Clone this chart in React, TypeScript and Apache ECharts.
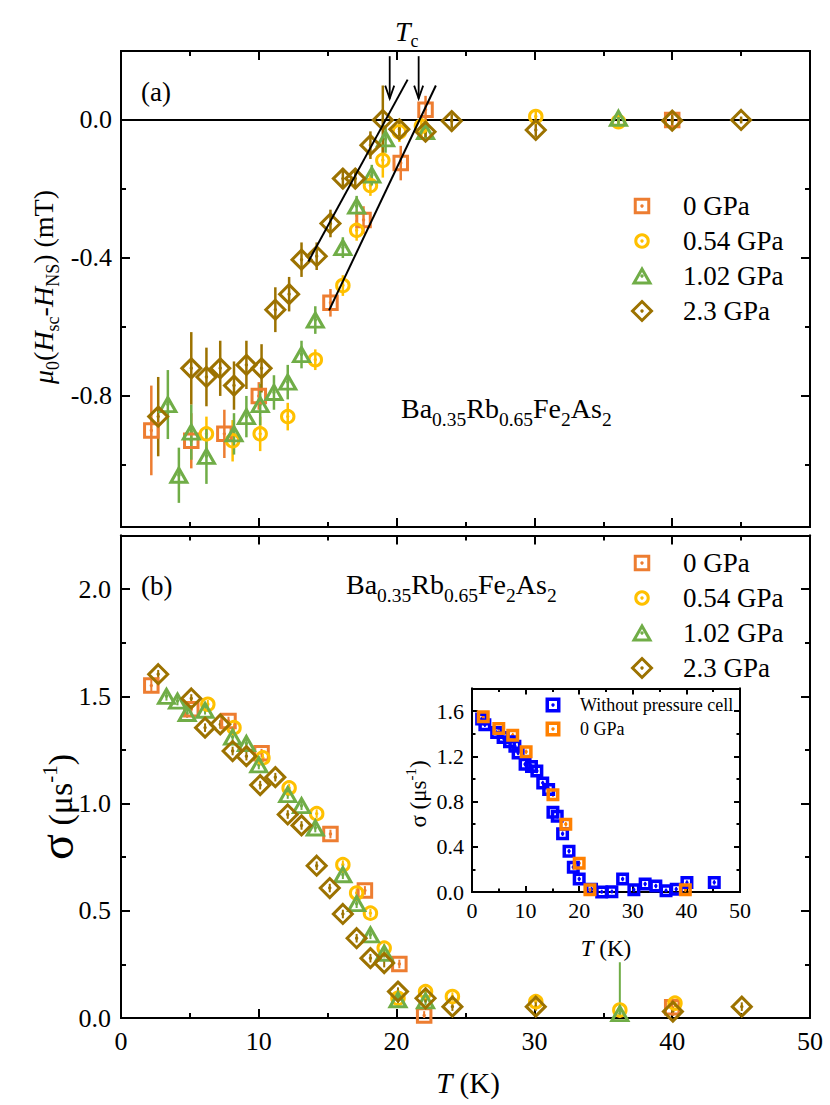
import React, { useEffect, useRef } from "react";
import * as echarts from "echarts";

const SERIF = "'Liberation Serif', 'Times New Roman', serif";

// ---------- colours ----------
const C0 = "#ED7D31"; // 0 GPa
const C054 = "#FFC000"; // 0.54 GPa
const C102 = "#70AD47"; // 1.02 GPa
const C23 = "#9C7200"; // 2.3 GPa
const CBLUE = "#0000FF";
const CORANGE = "#FF8000";

// ---------- legend / categories ----------
const pressures = ["0 GPa", "0.54 GPa", "1.02 GPa", "2.3 GPa"];
const insetNames = ["Without pressure cell", "0 GPa"];

// ---------- panel (a): [T (K), mu0(Hsc-HNS) (mT), error] ----------
const aP0 = [[2.2, -0.9, 0.13], [5.1, -0.93, 0.08], [7.5, -0.91, 0.07], [10.0, -0.8, 0.04], [15.2, -0.53, 0.04], [17.6, -0.29, 0.04], [20.3, -0.125, 0.05], [22.1, 0.03, 0.04], [40.0, 0.0, 0.01]];
const aP054 = [[6.2, -0.91, 0.05], [8.1, -0.93, 0.06], [10.1, -0.91, 0.05], [12.1, -0.86, 0.04], [14.1, -0.695, 0.03], [16.1, -0.48, 0.03], [17.1, -0.32, 0.03], [18.1, -0.19, 0.03], [19.0, -0.117, 0.05], [20.2, -0.034, 0.03], [21.8, -0.018, 0.03], [30.1, 0.01, 0.02], [36.1, -0.005, 0.02]];
const aP102 = [[3.4, -0.825, 0.1], [4.2, -1.03, 0.08], [5.1, -0.905, 0.08], [6.2, -0.975, 0.08], [8.2, -0.91, 0.06], [9.1, -0.86, 0.06], [10.1, -0.825, 0.06], [11.1, -0.79, 0.05], [12.1, -0.76, 0.05], [13.1, -0.68, 0.04], [14.1, -0.58, 0.04], [16.1, -0.37, 0.03], [17.1, -0.25, 0.03], [18.2, -0.16, 0.03], [19.2, -0.055, 0.04], [22.1, -0.034, 0.02], [36.1, 0.005, 0.02]];
const aP23 = [[2.7, -0.86, 0.115], [5.1, -0.72, 0.105], [6.2, -0.745, 0.085], [7.2, -0.72, 0.08], [8.2, -0.77, 0.07], [9.1, -0.71, 0.07], [10.2, -0.72, 0.07], [11.2, -0.55, 0.065], [12.2, -0.505, 0.05], [13.1, -0.405, 0.05], [14.2, -0.395, 0.04], [15.2, -0.3, 0.04], [16.1, -0.17, 0.03], [17.0, -0.17, 0.03], [18.1, -0.073, 0.04], [19.0, 0.0, 0.1], [20.2, -0.027, 0.03], [22.1, -0.034, 0.02], [24.0, -0.003, 0.02], [30.1, -0.029, 0.02], [40.0, -0.002, 0.02], [45.0, 0.0, 0.01]];
const zeroLine = [[0, 0], [50, 0]];
const fitLow = [[13.6, -0.41], [20.8, 0.117]];
const fitHigh = [[15.1, -0.552], [22.85, 0.1]];
const tcArrows = [19.5, 21.6];

// ---------- panel (b): [T (K), sigma (us^-1), error] ----------
const bP0 = [[2.2, 1.55, 0.03], [5.1, 1.44, 0.02], [7.8, 1.385, 0.02], [10.2, 1.235, 0.02], [15.2, 0.858, 0.02], [17.7, 0.595, 0.02], [20.2, 0.252, 0.02], [22.0, 0.012, 0.02], [40.0, 0.05, 0.02]];
const bP054 = [[6.3, 1.463, 0.02], [8.2, 1.354, 0.02], [10.3, 1.213, 0.02], [12.2, 1.073, 0.02], [14.2, 0.953, 0.02], [16.1, 0.715, 0.02], [17.1, 0.583, 0.02], [18.1, 0.489, 0.02], [19.1, 0.326, 0.02], [20.1, 0.092, 0.02], [22.1, 0.123, 0.02], [24.05, 0.1, 0.02], [30.1, 0.076, 0.02], [36.2, 0.037, 0.02], [40.2, 0.069, 0.02]];
const bP102 = [[3.3, 1.5, 0.02], [4.1, 1.478, 0.02], [4.8, 1.42, 0.02], [6.1, 1.435, 0.02], [8.1, 1.31, 0.02], [9.1, 1.28, 0.02], [10.0, 1.18, 0.02], [12.1, 1.042, 0.02], [13.1, 0.99, 0.02], [14.1, 0.886, 0.02], [16.1, 0.668, 0.02], [17.1, 0.533, 0.02], [18.1, 0.388, 0.02], [19.1, 0.302, 0.02], [20.1, 0.085, 0.02], [22.1, 0.08, 0.02], [36.2, 0.02, 0.24]];
const bP23 = [[2.7, 1.603, 0.02], [5.1, 1.49, 0.02], [6.1, 1.354, 0.02], [7.2, 1.369, 0.02], [8.1, 1.245, 0.02], [9.1, 1.221, 0.02], [10.1, 1.086, 0.02], [11.2, 1.123, 0.02], [12.1, 0.949, 0.02], [13.1, 0.898, 0.02], [14.2, 0.71, 0.02], [15.15, 0.606, 0.02], [16.1, 0.485, 0.02], [17.1, 0.372, 0.02], [18.1, 0.279, 0.02], [19.1, 0.256, 0.02], [20.1, 0.123, 0.02], [22.1, 0.092, 0.02], [24.05, 0.053, 0.02], [30.1, 0.053, 0.02], [40.05, 0.03, 0.02], [45.05, 0.053, 0.02]];

// ---------- inset: [T (K), sigma (us^-1), error] ----------
const insNoCell = [[1.8, 1.53, 0.02], [2.4, 1.48, 0.02], [4.6, 1.41, 0.02], [5.8, 1.366, 0.02], [7.0, 1.33, 0.02], [8.0, 1.29, 0.02], [8.6, 1.23, 0.02], [9.9, 1.13, 0.02], [11.1, 1.11, 0.02], [12.1, 1.07, 0.02], [13.2, 0.965, 0.02], [14.3, 0.906, 0.02], [15.1, 0.705, 0.02], [15.9, 0.67, 0.02], [16.9, 0.516, 0.02], [18.1, 0.36, 0.02], [18.9, 0.22, 0.02], [20.0, 0.115, 0.02], [22.3, 0.024, 0.02], [24.2, 0.0, 0.02], [26.1, 0.003, 0.02], [28.1, 0.115, 0.02], [30.2, 0.02, 0.02], [32.3, 0.07, 0.02], [34.3, 0.053, 0.02], [36.2, 0.012, 0.02], [38.1, 0.024, 0.02], [40.1, 0.083, 0.02], [45.2, 0.085, 0.02]];
const ins0GPa = [[2.1, 1.55, 0.02], [5.0, 1.446, 0.02], [7.6, 1.387, 0.02], [10.1, 1.24, 0.02], [15.1, 0.86, 0.02], [17.5, 0.6, 0.02], [20.0, 0.255, 0.02], [22.0, 0.02, 0.02], [39.8, 0.02, 0.02]];

// ---------- tick values ----------
const xLim = [0, 50];
const aYLim = [-1.18, 0.2];
const aYMajor = [-0.8, -0.4, 0.0];
const aYMinor = [-1.0, -0.6, -0.2];
const bYLim = [0, 2.25];
const bYMajor = [0, 0.5, 1.0, 1.5, 2.0];
const bYMinor = [0.25, 0.75, 1.25, 1.75];
const iYLim = [0, 1.8];
const iYMajor = [0, 0.4, 0.8, 1.2, 1.6];
const iYMinor = [0.2, 0.6, 1.0, 1.4];

const AX = "#000";

function xPair(grid: number, show: boolean, fs: number, margin: number, maj: number, min: number) {
  const common: any = {
    type: "value", gridIndex: grid, min: xLim[0], max: xLim[1], interval: 10,
    splitLine: { show: false },
    axisLine: { show: true, onZero: false, lineStyle: { color: AX, width: 2 } },
    axisTick: { show: true, inside: true, length: maj, lineStyle: { color: AX, width: 2 } },
    minorTick: { show: true, splitNumber: 2, length: min, lineStyle: { color: AX, width: 2 } },
  };
  return [
    { ...common, position: "bottom", axisLabel: show ? { show: true, color: "#000", fontFamily: SERIF, fontSize: fs, margin } : { show: false } },
    { ...common, position: "top", axisLabel: { show: false } },
  ];
}

function yQuad(grid: number, lim: number[], major: number[], minor: number[], fs: number, margin: number, maj: number, mn: number) {
  const mk = (pos: string, vals: number[], len: number, lab: boolean) => ({
    type: "value", gridIndex: grid, min: lim[0], max: lim[1], position: pos,
    splitLine: { show: false },
    axisLine: { show: true, onZero: false, lineStyle: { color: AX, width: 2 } },
    axisTick: { show: true, inside: true, length: len, customValues: vals, lineStyle: { color: AX, width: 2 } },
    axisLabel: lab
      ? { show: true, customValues: major, formatter: (v: number) => v.toFixed(1), color: "#000", fontFamily: SERIF, fontSize: fs, margin }
      : { show: false },
  });
  return [mk("left", major, maj, true), mk("left", minor, mn, false), mk("right", major, maj, false), mk("right", minor, mn, false)];
}

function errSeries(data: number[][], color: string, xi: number, yi: number, lw: number, floor: number) {
  return {
    type: "custom", xAxisIndex: xi, yAxisIndex: yi, silent: true, data, encode: { x: 0, y: 1 },
    renderItem: (_p: any, api: any) => {
      const x = api.value(0), y = api.value(1), e = api.value(2);
      const a = api.coord([x, Math.max(y - e, floor)]);
      const b = api.coord([x, y + e]);
      const c = api.coord([x, y]);
      return {
        type: "group",
        children: [
          { type: "line", shape: { x1: a[0], y1: a[1], x2: b[0], y2: b[1] }, style: { stroke: color, lineWidth: lw } },
          { type: "circle", shape: { cx: c[0], cy: c[1], r: 1.7 }, style: { fill: color } },
        ],
      };
    },
  };
}

function scatter(name: string, data: number[][], symbol: string, size: any, color: string, xi: number, yi: number, bw: number) {
  return {
    name, type: "scatter", xAxisIndex: xi, yAxisIndex: yi, silent: true,
    data: data.map((d) => [d[0], d[1]]),
    symbol, symbolSize: size,
    itemStyle: { color: "transparent", borderColor: color, borderWidth: bw, opacity: 1 },
    emphasis: { disabled: true },
  };
}

const SYM: any = {
  rect: { sym: "rect", size: 13.5 },
  circle: { sym: "circle", size: 12.5 },
  triangle: { sym: "triangle", size: [16, 14] },
  diamond: { sym: "diamond", size: 19 },
};

function icon(kind: string, cx: number, cy: number, color: string, s = 1, lw = 3) {
  let shape: any;
  if (kind === "rect") shape = { type: "rect", shape: { x: cx - 6.75 * s, y: cy - 6.75 * s, width: 13.5 * s, height: 13.5 * s } };
  else if (kind === "circle") shape = { type: "circle", shape: { cx, cy, r: 6.25 } };
  else if (kind === "triangle") shape = { type: "polygon", shape: { points: [[cx, cy - 7], [cx + 8, cy + 7], [cx - 8, cy + 7]] } };
  else shape = { type: "polygon", shape: { points: [[cx, cy - 9.5], [cx + 9.5, cy], [cx, cy + 9.5], [cx - 9.5, cy]] } };
  return [
    { ...shape, style: { fill: "transparent", stroke: color, lineWidth: lw } },
    { type: "circle", shape: { cx, cy, r: 1.7 }, style: { fill: color } },
  ];
}

function text(x: number, y: number, t: string, fs: number, extra: any = {}) {
  return {
    type: "text", x, y, silent: true,
    style: { text: t, fontFamily: SERIF, fontSize: fs, fill: "#000", align: "left", verticalAlign: "middle", ...extra },
  };
}

// manual rich layout: parts laid along a baseline; dy shifts (sub/superscripts)
type Part = { t: string; fs: number; it?: boolean; dy?: number };
let mctx: CanvasRenderingContext2D | null = null;
function tw(t: string, fs: number, it?: boolean) {
  if (!mctx) mctx = document.createElement("canvas").getContext("2d");
  if (!mctx) return t.length * fs * 0.5;
  mctx.font = `${it ? "italic " : ""}${fs}px 'Liberation Serif'`;
  return mctx.measureText(t).width;
}
function richText(x: number, y: number, parts: Part[], align: "left" | "center", rot = 0) {
  const widths = parts.map((p) => tw(p.t, p.fs, p.it));
  const total = widths.reduce((s, w) => s + w, 0);
  let cx = align === "center" ? -total / 2 : 0;
  const children = parts.map((p, i) => {
    const el = {
      type: "text", x: cx, y: p.dy || 0, silent: true,
      style: { text: p.t, fontFamily: SERIF, fontSize: p.fs, fontStyle: p.it ? "italic" : "normal", fill: "#000", align: "left", verticalAlign: "middle" },
    };
    cx += widths[i];
    return el;
  });
  return { type: "group", x, y, rotation: rot, silent: true, children };
}

export default function App() {
  const ref = useRef<HTMLDivElement>(null);
  useEffect(() => {
    if (!ref.current) return;
    const chart = echarts.init(ref.current, undefined, { renderer: "svg" });
    const kinds = ["rect", "circle", "triangle", "diamond"];
    const colors = [C0, C054, C102, C23];
    const aSets = [aP0, aP054, aP102, aP23];
    const bSets = [bP0, bP054, bP102, bP23];

    const series: any[] = [];
    series.push({ type: "line", xAxisIndex: 0, yAxisIndex: 0, data: zeroLine, symbol: "none", silent: true, lineStyle: { color: "#000", width: 2 }, z: 1 });
    aSets.forEach((d, i) => {
      series.push(errSeries(d, colors[i], 0, 0, 2.5, aYLim[0]));
      series.push(scatter(pressures[i], d, SYM[kinds[i]].sym, SYM[kinds[i]].size, colors[i], 0, 0, 3));
    });
    [fitLow, fitHigh].forEach((f) =>
      series.push({ type: "line", xAxisIndex: 0, yAxisIndex: 0, data: f, symbol: "none", silent: true, lineStyle: { color: "#000", width: 2 }, z: 5 })
    );
    series.push({
      type: "custom", xAxisIndex: 0, yAxisIndex: 0, silent: true, data: tcArrows.map((t) => [t, 0]), encode: { x: 0, y: 1 }, z: 6,
      renderItem: (_p: any, api: any) => {
        const t = api.value(0);
        const top = api.coord([t, 0.185]);
        const tip = api.coord([t, 0.062]);
        return {
          type: "group",
          children: [
            { type: "line", shape: { x1: top[0], y1: top[1], x2: tip[0], y2: tip[1] }, style: { stroke: "#000", lineWidth: 1.8 } },
            { type: "polyline", shape: { points: [[tip[0] - 4.5, tip[1] - 13], [tip[0], tip[1]], [tip[0] + 4.5, tip[1] - 13]] }, style: { stroke: "#000", lineWidth: 1.8, fill: "none" } },
          ],
        };
      },
    });
    bSets.forEach((d, i) => {
      series.push(errSeries(d, colors[i], 2, 4, 2, bYLim[0]));
      series.push(scatter(pressures[i], d, SYM[kinds[i]].sym, SYM[kinds[i]].size, colors[i], 2, 4, 3));
    });
    [insNoCell, ins0GPa].forEach((d, i) => {
      const c = i === 0 ? CBLUE : CORANGE;
      series.push(errSeries(d, c, 4, 8, 1.5, iYLim[0]));
      series.push(scatter(insetNames[i], d, "rect", 9.5, c, 4, 8, 3.5));
    });

    const graphic: any[] = [];
    // panel labels
    graphic.push(text(141, 92, "(a)", 27));
    graphic.push(text(141, 586, "(b)", 27));
    // Tc
    graphic.push(richText(395, 31, [{ t: "T", fs: 28, it: true }, { t: "c", fs: 18, dy: 10 }], "left"));
    // compound names
    const comp: Part[] = [
      { t: "Ba", fs: 28 }, { t: "0.35", fs: 19.5, dy: 11 },
      { t: "Rb", fs: 28 }, { t: "0.65", fs: 19.5, dy: 11 },
      { t: "Fe", fs: 28 }, { t: "2", fs: 19.5, dy: 11 },
      { t: "As", fs: 28 }, { t: "2", fs: 19.5, dy: 11 },
    ];
    graphic.push(richText(401, 408, comp, "left"));
    graphic.push(richText(346, 584, comp, "left"));
    // legends
    const legA = [206, 241, 276, 311];
    const legB = [563, 598, 633, 668];
    [legA, legB].forEach((rows) => {
      rows.forEach((y, i) => {
        graphic.push(...icon(kinds[i], 642, y, colors[i]));
        graphic.push(text(683, y, pressures[i], 27));
      });
    });
    // inset legend
    graphic.push(...icon("rect", 553, 705, CBLUE, 0.85, 3.5));
    graphic.push(text(580, 705, insetNames[0], 18));
    graphic.push(...icon("rect", 553, 729, CORANGE, 0.85, 3.5));
    graphic.push(text(580, 729, insetNames[1], 18));
    // axis titles
    graphic.push(richText(468, 1083, [{ t: "T", fs: 29, it: true }, { t: " (K)", fs: 29 }], "center"));
    graphic.push(richText(606, 948, [{ t: "T", fs: 23, it: true }, { t: " (K)", fs: 23 }], "center"));
    graphic.push(
      richText(43, 287, [
        { t: "μ", fs: 28, it: true }, { t: "0", fs: 18, dy: 10 },
        { t: "(", fs: 28 }, { t: "H", fs: 28, it: true }, { t: "sc", fs: 18, dy: 10 },
        { t: "-", fs: 28 }, { t: "H", fs: 28, it: true }, { t: "NS", fs: 18, dy: 10 },
        { t: ") (mT)", fs: 28 },
      ], "center", Math.PI / 2)
    );
    graphic.push(
      richText(60, 807, [
        { t: "σ", fs: 48, dy: -4 }, { t: " (μs", fs: 34 }, { t: "-1", fs: 21, dy: -10 }, { t: ")", fs: 34 },
      ], "center", Math.PI / 2)
    );
    graphic.push(
      richText(418, 794, [
        { t: "σ (μs", fs: 23 }, { t: "-1", fs: 15, dy: -7 }, { t: ")", fs: 23 },
      ], "center", Math.PI / 2)
    );

    const option: any = {
      animation: false,
      backgroundColor: "#fff",
      grid: [
        { left: 121, top: 51, width: 689, height: 476 },
        { left: 121, top: 535.5, width: 689, height: 482.5 },
        { left: 472, top: 688.5, width: 268, height: 203.5 },
      ],
      xAxis: [...xPair(0, false, 26, 10, 9, 5), ...xPair(1, true, 26, 10, 9, 5), ...xPair(2, true, 22, 7, 6, 3.5)],
      yAxis: [
        ...yQuad(0, aYLim, aYMajor, aYMinor, 26, 9, 9, 5),
        ...yQuad(1, bYLim, bYMajor, bYMinor, 26, 10, 9, 5),
        ...yQuad(2, iYLim, iYMajor, iYMinor, 22, 8, 6, 3.5),
      ],
      series,
      graphic,
    };
    chart.setOption(option);
    return () => chart.dispose();
  }, []);
  return <div ref={ref} style={{ position: "absolute", left: 0, top: 0, width: 830, height: 1105 }} />;
}
